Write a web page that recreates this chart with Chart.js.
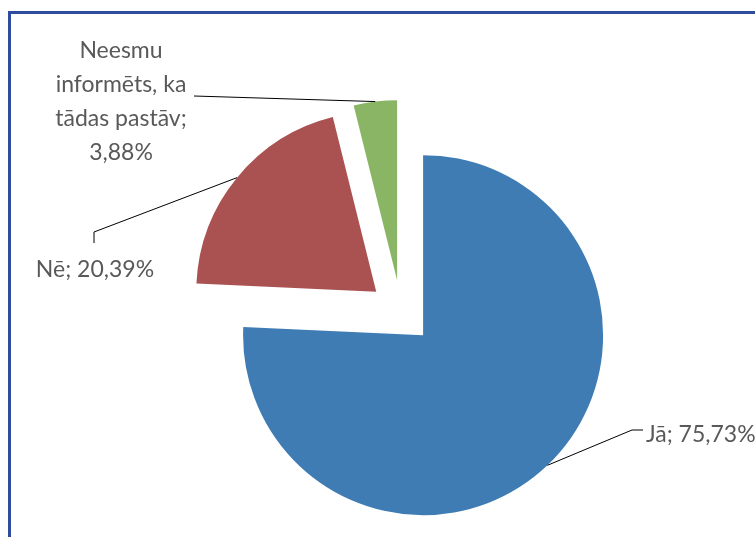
<!DOCTYPE html>
<html>
<head>
<meta charset="utf-8">
<title>Jā / Nē</title>
<script src="https://cdn.jsdelivr.net/npm/chart.js@4.4.0/dist/chart.umd.min.js"></script>
<style>
    html, body { margin: 0; padding: 0; background: #fff; overflow: hidden; }
    #wrap { position: relative; width: 755px; height: 537px; }
    #frame {
        position: absolute; left: 8px; top: 11px; right: -10px; bottom: -10px;
        border-left: 3px solid #2f4c9f; border-top: 3px solid #2f4c9f;
        pointer-events: none;
    }
    #pie { position: absolute; left: 0; top: 0; }
</style>
</head>
<body>
<div id="wrap">
    <canvas id="pie" width="755" height="537"></canvas>
    <div id="frame"></div>
</div>
<script>
// Answers and their shares (%)
const categories = ["Jā", "Nē", "Neesmu informēts, ka tādas pastāv"];
const shares = [75.73, 20.39, 3.88];
const sliceColors = ["#3f7cb4", "#aa5252", "#8ab565"];

// how far every slice is pulled out from the centre (px)
const EXPLODE = 32;

// Leader line bends and text anchors for each slice label
const labelLayout = [
    { path: [[632, 430], [643, 430]], x: 646, y: 442, align: "left" },
    { path: [[94, 232], [94, 243]], x: 95, y: 277, align: "center" },
    { path: [[194, 96]], x: 121, y: 58, align: "center", wrap: 150 }
];

function formatShare(v) {
    return v.toFixed(2).replace(".", ",") + "%";
}

// Split a label into lines no wider than maxWidth
function wrapText(ctx, text, maxWidth) {
    const words = text.split(" ");
    const lines = [];
    let line = "";
    words.forEach(w => {
        const test = line ? line + " " + w : w;
        if (line && ctx.measureText(test).width > maxWidth) {
            lines.push(line);
            line = w;
        } else {
            line = test;
        }
    });
    if (line) lines.push(line);
    return lines;
}

// Pulls each slice out along its middle angle without changing its radius
const explodeSlices = {
    id: "explodeSlices",
    beforeDatasetDraw(chart, args) {
        const ctx = chart.ctx;
        args.meta.data.forEach(arc => {
            const mid = (arc.startAngle + arc.endAngle) / 2;
            ctx.save();
            ctx.translate(Math.cos(mid) * EXPLODE, Math.sin(mid) * EXPLODE);
            arc.draw(ctx, chart.chartArea);
            ctx.restore();
        });
        return false;
    }
};

// Draws "name; value%" labels with leader lines to each slice's outer edge
const leaderLabels = {
    id: "leaderLabels",
    afterDatasetsDraw(chart) {
        const ctx = chart.ctx;
        const meta = chart.getDatasetMeta(0);
        ctx.save();
        ctx.font = "23px Lato";
        ctx.fillStyle = "#595959";
        ctx.strokeStyle = "#000";
        ctx.lineWidth = 1;
        meta.data.forEach((arc, i) => {
            const mid = (arc.startAngle + arc.endAngle) / 2;
            const r = arc.outerRadius + EXPLODE;
            const ax = arc.x + Math.cos(mid) * r;
            const ay = arc.y + Math.sin(mid) * r;
            const lay = labelLayout[i];

            ctx.beginPath();
            ctx.moveTo(ax, ay);
            lay.path.forEach(pt => ctx.lineTo(pt[0], pt[1]));
            ctx.stroke();

            const text = categories[i] + "; " + formatShare(shares[i]);
            const lines = lay.wrap ? wrapText(ctx, text, lay.wrap) : [text];
            ctx.textAlign = lay.align;
            ctx.textBaseline = "alphabetic";
            lines.forEach((ln, k) => ctx.fillText(ln, lay.x, lay.y + k * 34));
        });
        ctx.restore();
    }
};

new Chart(document.getElementById("pie"), {
    type: "pie",
    data: {
        labels: categories,
        datasets: [{
            data: shares,
            backgroundColor: sliceColors,
            borderWidth: 0,
            offset: 0,
            hoverOffset: 0
        }]
    },
    options: {
        responsive: false,
        animation: false,
        events: [],
        radius: 180,
        layout: { padding: { left: 47, right: 0, top: 87, bottom: 0 } },
        plugins: {
            legend: { display: false },
            tooltip: { enabled: false }
        }
    },
    plugins: [explodeSlices, leaderLabels]
});
</script>
</body>
</html>
